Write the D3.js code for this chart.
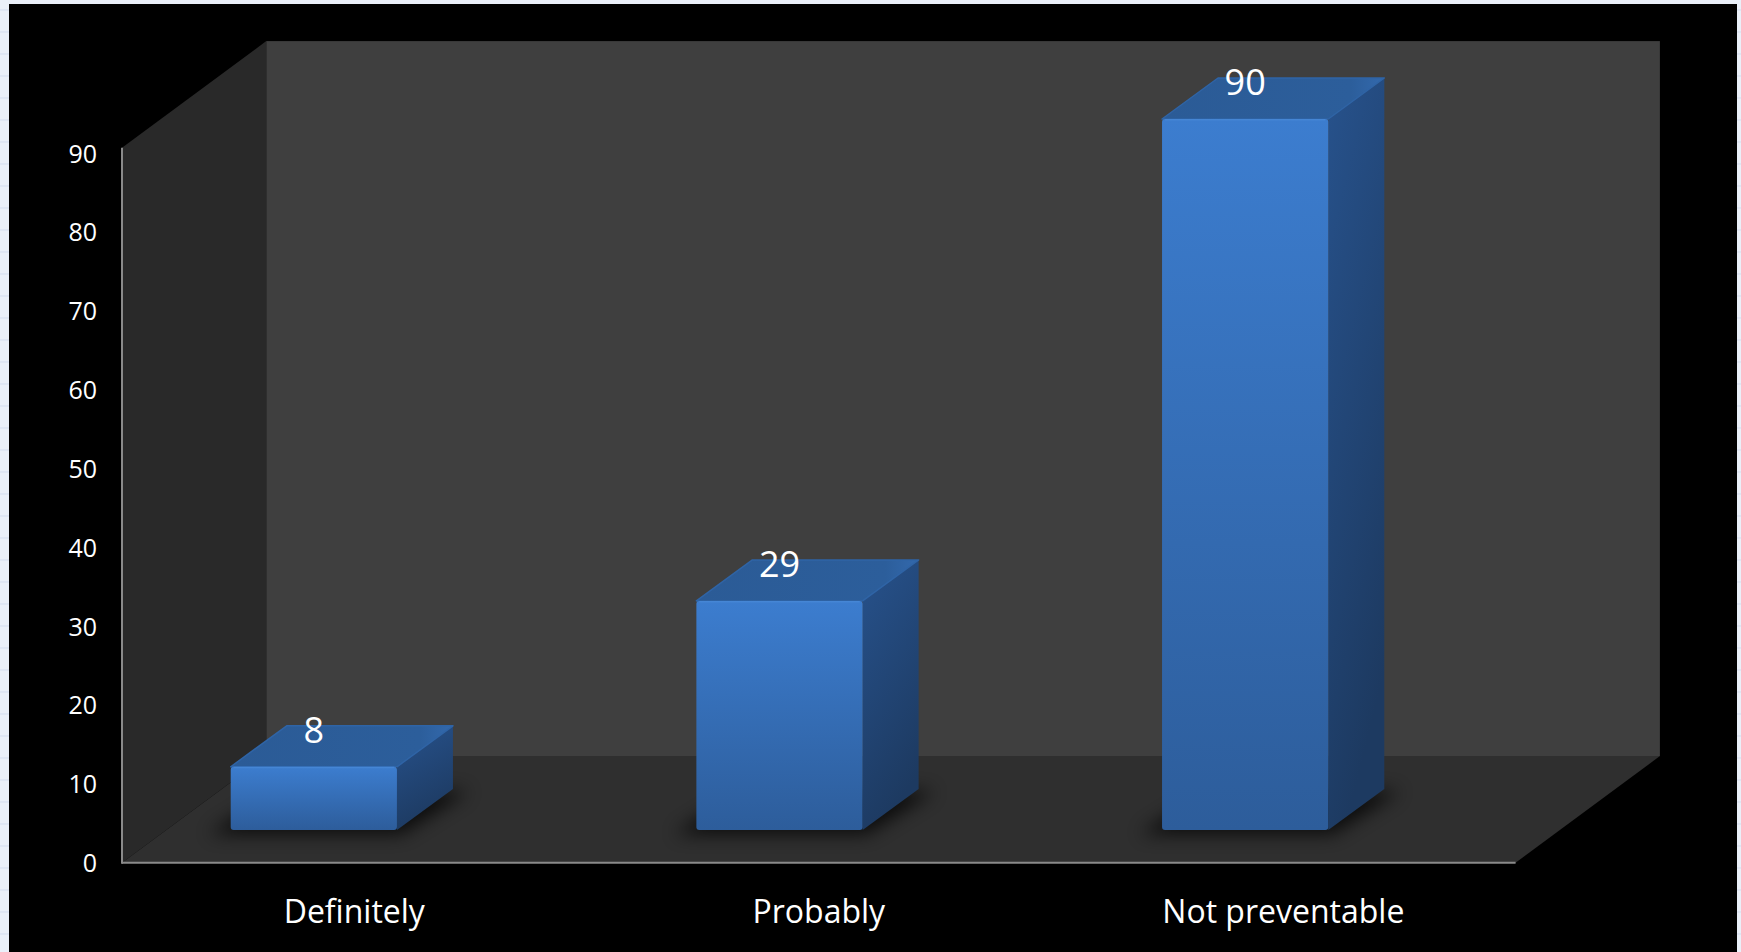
<!DOCTYPE html>
<html>
<head>
<meta charset="utf-8">
<script src="https://cdn.jsdelivr.net/npm/d3@7"></script>
<style>
  html, body { margin: 0; padding: 0; background: #eaf0f9; }
  svg { display: block; }
</style>
</head>
<body>
<svg id="chart" width="1741" height="952"></svg>
<script>
// ---- data ----
const categories = ["Definitely", "Probably", "Not preventable"];
const values = [8, 29, 90];
const tickValues = [0, 10, 20, 30, 40, 50, 60, 70, 80, 90];

// ---- layout ----
const W = 1741, H = 952;
const svg = d3.select("#chart");
const font = "'Open Sans', 'Noto Sans', sans-serif";

// front plane of the 3D box
const y = d3.scaleLinear().domain([0, 90]).range([862.7, 147.7]);
// tick labels sit slightly differently than the front edge
const yLabel = d3.scaleLinear().domain([0, 90]).range([861.5, 152]);
// bars stand a bit behind the front plane
const yBar = d3.scaleLinear().domain([0, 90]).range([830, 119]);
const xFront = d3.scaleBand().domain(categories).range([122, 1515.6]);
const xBar = d3.scaleBand().domain(categories).range([81, 1478]);
const depth = { dx: 144.3, dy: -106.6 };     // whole box depth
const barDepth = { dx: 56, dy: -41 };        // bar depth
const barW = xBar.bandwidth() * 0.357;

const defs = svg.append("defs");

// background frame
svg.append("rect").attr("x", 0).attr("y", 0).attr("width", W).attr("height", H).attr("fill", "#eaf0f9");
const grid = svg.append("g").attr("stroke", "#d3ddef").attr("stroke-width", 1);
d3.range(10, H, 22).forEach(v => grid.append("line").attr("x1", 0).attr("x2", W).attr("y1", v).attr("y2", v));
svg.append("rect").attr("x", 9).attr("y", 4).attr("width", 1728).attr("height", H - 4).attr("fill", "#000");

// walls
const x0 = xFront.range()[0], x1 = xFront.range()[1];
const yb = y(0), yt = y(90);
svg.append("polygon")
  .attr("points", [[x0, yb], [x0, yt], [x0 + depth.dx, yt + depth.dy], [x0 + depth.dx, yb + depth.dy]].join(" "))
  .attr("fill", "#292929");
svg.append("rect")
  .attr("x", x0 + depth.dx).attr("y", yt + depth.dy)
  .attr("width", x1 - x0).attr("height", yb - yt)
  .attr("fill", "#3f3f3f");
svg.append("polygon")
  .attr("points", [[x0, yb], [x1, yb], [x1 + depth.dx, yb + depth.dy], [x0 + depth.dx, yb + depth.dy]].join(" "))
  .attr("fill", "#2f2f2f");

// axis lines
svg.append("line").attr("x1", x0).attr("x2", x0).attr("y1", yt).attr("y2", yb + 1)
  .attr("stroke", "#8a8a8a").attr("stroke-width", 2);
svg.append("line").attr("x1", x0).attr("x2", x1).attr("y1", yb).attr("y2", yb)
  .attr("stroke", "#8a8a8a").attr("stroke-width", 2);

// y axis labels
const yAxis = svg.append("g").attr("transform", `translate(${x0},0)`)
  .call(d3.axisLeft(yLabel).tickValues(tickValues).tickSize(0).tickPadding(25));
yAxis.select(".domain").remove();
yAxis.selectAll("text").attr("fill", "#fff").attr("font-size", 25).attr("font-family", font)
  .attr("dy", "0.4em");

// gradients
const gFront = defs.append("linearGradient").attr("id", "gFront").attr("x1", 0).attr("y1", 0).attr("x2", 0).attr("y2", 1);
gFront.append("stop").attr("offset", 0).attr("stop-color", "#3c7dcf");
gFront.append("stop").attr("offset", 1).attr("stop-color", "#2d5d9b");
const gSide = defs.append("linearGradient").attr("id", "gSide").attr("x1", 0).attr("y1", 0).attr("x2", 0.3).attr("y2", 1);
gSide.append("stop").attr("offset", 0).attr("stop-color", "#27528c");
gSide.append("stop").attr("offset", 1).attr("stop-color", "#1d3a61");
const gTop = defs.append("linearGradient").attr("id", "gTop").attr("x1", 0).attr("y1", 0).attr("x2", 1).attr("y2", 0);
gTop.append("stop").attr("offset", 0).attr("stop-color", "#2b5b96");
gTop.append("stop").attr("offset", 0.85).attr("stop-color", "#2c5e9b");
gTop.append("stop").attr("offset", 1).attr("stop-color", "#3369ad");

const blur = defs.append("filter").attr("id", "shadow").attr("x", "-50%").attr("y", "-50%").attr("width", "200%").attr("height", "200%");
blur.append("feGaussianBlur").attr("stdDeviation", 9);

// bars
const bars = svg.append("g");
categories.forEach((c, i) => {
  const v = values[i];
  const cx = xBar(c) + xBar.bandwidth() / 2;
  const L = cx - barW / 2, R = cx + barW / 2;
  const B = yBar(0), T = yBar(v);
  const dx = barDepth.dx, dy = barDepth.dy;
  const g = bars.append("g");
  // shadow on floor
  g.append("polygon")
    .attr("points", [[L - 22, B + 4], [R + 4, B + 4], [R + dx + 16, B + dy + 2], [L + dx - 10, B + dy + 2]].join(" "))
    .attr("fill", "#000").attr("opacity", 0.75).attr("filter", "url(#shadow)");
  // right face
  g.append("polygon")
    .attr("points", [[R, B], [R, T], [R + dx, T + dy], [R + dx, B + dy]].join(" "))
    .attr("fill", "url(#gSide)");
  // top face
  g.append("polygon")
    .attr("points", [[L, T], [R, T], [R + dx, T + dy], [L + dx, T + dy]].join(" "))
    .attr("fill", "url(#gTop)").attr("stroke", "#2f64a6").attr("stroke-width", 1.5).attr("stroke-linejoin", "round");
  // front face
  g.append("rect")
    .attr("x", L).attr("y", T).attr("width", barW).attr("height", B - T)
    .attr("rx", 3).attr("fill", "url(#gFront)");
  g.append("line").attr("x1", L + 3).attr("x2", R - 3).attr("y1", T + 0.8).attr("y2", T + 0.8)
    .attr("stroke", "#4a8ad8").attr("stroke-width", 1.5).attr("opacity", 0.7);
  // value label
  g.append("text")
    .attr("x", cx).attr("y", T - 24)
    .attr("text-anchor", "middle")
    .attr("fill", "#fff").attr("font-size", 36).attr("font-family", font)
    .text(v);
});

// category labels
svg.append("g").selectAll("text").data(categories).join("text")
  .attr("x", d => xFront(d) + xFront.bandwidth() / 2)
  .attr("y", 923)
  .attr("text-anchor", "middle")
  .attr("fill", "#fff").attr("font-size", 32).attr("font-family", font)
  .text(d => d);
</script>
</body>
</html>
